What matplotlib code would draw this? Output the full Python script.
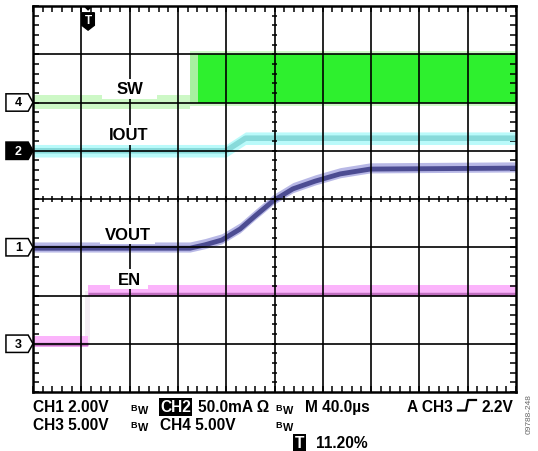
import numpy as np
import matplotlib
matplotlib.use("Agg")
import matplotlib.pyplot as plt
from matplotlib.patches import Polygon, Rectangle
from matplotlib.lines import Line2D

plt.rcParams['font.family'] = ['Liberation Sans', 'DejaVu Sans']
plt.rcParams['font.weight'] = 'bold'

# screen is 10 x 8 divisions
# SW (ch4): idle level, then switching envelope
sw_t = [0.0, 3.25, 3.25, 10.0]
sw_lo = [5.87, 5.87, 5.93, 5.93]
sw_hi = [6.16, 6.16, 7.07, 7.07]
sw_core_t = [3.42, 10.0]
sw_core_lo = [6.0, 6.0]
sw_core_hi = [7.0, 7.0]

# IOUT (ch2)
iout_t = [0.0, 4.0, 4.4, 10.0]
iout_v = [5.0, 5.0, 5.26, 5.26]

# VOUT (ch1) soft-start ramp
vout_t = [0.0, 3.25, 3.56, 3.91, 4.29, 4.6, 4.97, 5.38, 5.84, 6.36, 6.98, 10.0]
vout_v = [2.98, 2.98, 3.05, 3.15, 3.38, 3.65, 3.96, 4.21, 4.37, 4.52, 4.62, 4.64]

# EN (ch3)
en_lo_t = [0.0, 1.13]
en_lo_v = [1.04, 1.04]
en_hi_t = [1.13, 10.0]
en_hi_v = [2.08, 2.08]

labels = ['SW', 'IOUT', 'VOUT', 'EN']
label_x = [2.0, 1.98, 1.96, 1.99]
label_y = [6.28, 5.33, 3.27, 2.34]
label_w = [1.14, 1.14, 1.14, 0.79]

markers = ['4', '2', '1', '3']
marker_y = [6.0, 5.0, 3.0, 1.0]
marker_dark = [False, True, False, False]

fig = plt.figure(figsize=(5.38, 4.52), dpi=100)
ax = fig.add_axes([33 / 538, 59 / 452, 483 / 538, 386 / 452])
ax.set_xlim(0, 10)
ax.set_ylim(0, 8)

# grid
for x in range(1, 10):
    ax.axvline(x, color='black', lw=1.2, zorder=3)
for y in range(1, 8):
    ax.axhline(y, color='black', lw=1.2, zorder=3)
for s in ax.spines.values():
    s.set_linewidth(1.8)
    s.set_zorder(6)
ax.set_xticks(np.arange(0, 10.01, 0.2))
ax.set_yticks(np.arange(0, 8.01, 0.2))
ax.tick_params(direction='in', length=4, width=1.1, top=True, right=True,
               labelbottom=False, labelleft=False)
ax.vlines(np.arange(0.2, 10, 0.2), 4 - 0.06, 4 + 0.06, color='black', lw=1.1, zorder=3)
ax.hlines(np.arange(0.2, 8, 0.2), 5 - 0.06, 5 + 0.06, color='black', lw=1.1, zorder=3)

# SW
ax.fill_between(sw_t, sw_lo, sw_hi, color='#cdf8c6', lw=0, zorder=1)
ax.fill_between([3.25, 3.42], [6.0, 6.0], [7.0, 7.0], color='#a8f0a0', lw=0, zorder=1)
ax.fill_between(sw_core_t, sw_core_lo, sw_core_hi, color='#2ef02e', lw=0, zorder=1)

# IOUT
iv = np.array(iout_v)
ax.fill_between(iout_t, iv - 0.13, iv + 0.13, color='#bafafa', lw=0, zorder=1)
ax.plot(iout_t, iv, color='#88dada', lw=4, zorder=2, solid_capstyle='butt')

# VOUT
vv = np.array(vout_v)
ax.fill_between(vout_t, vv - 0.08, vv + 0.13, color='#b8b8e6', lw=0, zorder=1)
ax.plot(vout_t, vv, color='#4c4c92', lw=3.5, zorder=2, solid_capstyle='butt')

# EN
for t, v in [(en_lo_t, en_lo_v), (en_hi_t, en_hi_v)]:
    v = np.array(v)
    ax.fill_between(t, v - 0.1, v + 0.13, color='#fbb4fb', lw=0, zorder=1)
    ax.plot(t, v - 0.05, color='#c070c0', lw=2.5, zorder=2, solid_capstyle='butt')
ax.fill_between([1.08, 1.18], [1.0, 1.0], [2.1, 2.1], color='#f4ecf4', lw=0, zorder=0)

# trace labels
for lab, lx, ly, lw_ in zip(labels, label_x, label_y, label_w):
    ax.add_patch(Rectangle((lx - lw_ / 2, ly - 0.21), lw_, 0.42, facecolor='white',
                           edgecolor='none', zorder=4))
    ax.text(lx, ly, lab, ha='center', va='center', fontsize=12, fontweight='bold',
            zorder=5)

# channel markers at left
for m, my, dark in zip(markers, marker_y, marker_dark):
    h = 0.18
    pts = [(-0.56, my - h), (-0.1, my - h), (0, my), (-0.1, my + h), (-0.56, my + h)]
    ax.add_patch(Polygon(pts, closed=True, facecolor='black' if dark else 'white',
                         edgecolor='black', lw=1.1, clip_on=False, zorder=7))
    ax.text(-0.3, my, m, ha='center', va='center', fontsize=9, fontweight='bold',
            color='white' if dark else 'black', clip_on=False, zorder=8)

# trigger position marker
tx = 1.14
ax.add_patch(Polygon([(tx - 0.1, 8.0), (tx + 0.1, 8.0), (tx, 7.9)], closed=True,
                     facecolor='black', edgecolor='none', clip_on=False, zorder=7))
ax.add_patch(Polygon([(tx - 0.13, 7.86), (tx + 0.13, 7.86), (tx + 0.13, 7.6),
                      (tx, 7.5), (tx - 0.13, 7.6)], closed=True,
                     facecolor='black', edgecolor='black', lw=1, clip_on=False, zorder=7))
ax.text(tx, 7.7, 'T', ha='center', va='center', fontsize=8.5, fontweight='bold',
        color='white', zorder=8)

# bottom readout
def ftext(x, y, s, size=11.2, color='black', **kw):
    fig.text(x / 538, 1 - y / 452, s, fontsize=size, fontweight='bold',
             color=color, va='baseline', ha='left', **kw)

def bw(x, y):
    ftext(x, y - 3, 'B', size=6.5)
    ftext(x + 8, y, 'W', size=7.8)

ftext(33, 412.5, 'CH1 2.00V')
bw(130, 414)
ftext(160, 412.5, 'CH2', color='white',
      bbox=dict(facecolor='black', edgecolor='none', pad=1))
ftext(198, 412.5, '50.0mA \u03a9')
bw(275, 414)
ftext(305, 412.5, 'M 40.0\u00b5s')
ftext(407, 412.5, 'A CH3')
ftext(481, 412.5, '2.2V')
fig.add_artist(Line2D(np.array([458, 466, 468, 476]) / 538,
                      1 - np.array([411.5, 411.5, 401, 401]) / 452,
                      color='black', lw=1.6))

ftext(33, 430, 'CH3 5.00V')
bw(130, 431.5)
ftext(160, 430, 'CH4 5.00V')
bw(275, 431.5)

ftext(295, 448.5, 'T', color='white',
      bbox=dict(facecolor='black', edgecolor='none', pad=1.2))
ftext(316, 448.5, '11.20%')

fig.text(529 / 538, 1 - 414 / 452, '09788-248', rotation=90, fontsize=6,
         color='#666666', fontweight='normal', ha='center', va='center')

fig.savefig('out.png', dpi=100)
